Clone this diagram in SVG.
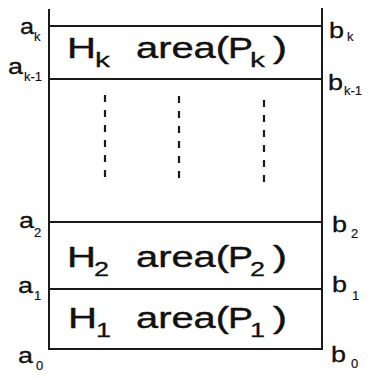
<svg xmlns="http://www.w3.org/2000/svg" width="369" height="378" viewBox="0 0 369 378">
<style>
.ln{stroke:#1a1a1a;stroke-width:2;fill:none}
.dl{stroke:#1a1a1a;stroke-width:2.2;stroke-dasharray:7 8;fill:none}
.big{font-family:"Liberation Sans",Arial,sans-serif;font-size:30px;fill:#111;stroke:#111;stroke-width:0.4}
.bs{font-family:"Liberation Sans",Arial,sans-serif;font-size:21px;fill:#111;stroke:#111;stroke-width:0.3}
.lb{font-family:"Liberation Sans",Arial,sans-serif;font-size:22px;fill:#111;stroke:#111;stroke-width:0.3}
.ls{font-family:"Liberation Sans",Arial,sans-serif;font-size:13px;fill:#111;stroke:#111;stroke-width:0.2}
</style>
<rect width="369" height="378" fill="#fff"/>
<g id="connectors">
<line class="ln" x1="49" y1="9" x2="49" y2="350"/>
<line class="ln" x1="322" y1="8" x2="322" y2="350"/>
<line class="ln" x1="49" y1="26" x2="322" y2="26"/>
<line class="ln" x1="49" y1="79" x2="322" y2="79"/>
<line class="ln" x1="49" y1="222" x2="322" y2="222"/>
<line class="ln" x1="49" y1="289" x2="322" y2="289"/>
<line class="ln" x1="48" y1="349" x2="323" y2="349"/>
<line class="dl" x1="105" y1="95" x2="105" y2="183"/>
<line class="dl" x1="179" y1="96" x2="179" y2="185"/>
<line class="dl" x1="264" y1="100" x2="264" y2="188"/>
</g>
<g id="row-k">
<text class="big" x="67" y="58" textLength="29" lengthAdjust="spacingAndGlyphs">H</text>
<text class="bs" x="95" y="67" textLength="15" lengthAdjust="spacingAndGlyphs">k</text>
<text class="big" x="136" y="58" textLength="93" lengthAdjust="spacingAndGlyphs">area(</text>
<text class="big" x="228" y="58" textLength="25" lengthAdjust="spacingAndGlyphs">P</text>
<text class="bs" x="250" y="67" textLength="15" lengthAdjust="spacingAndGlyphs">k</text>
<text class="big" x="273" y="58" textLength="14" lengthAdjust="spacingAndGlyphs">)</text>
</g>
<g id="row-2">
<text class="big" x="67" y="267" textLength="29" lengthAdjust="spacingAndGlyphs">H</text>
<text class="bs" x="94" y="276" textLength="15" lengthAdjust="spacingAndGlyphs">2</text>
<text class="big" x="136" y="267" textLength="93" lengthAdjust="spacingAndGlyphs">area(</text>
<text class="big" x="228" y="267" textLength="25" lengthAdjust="spacingAndGlyphs">P</text>
<text class="bs" x="250" y="276" textLength="15" lengthAdjust="spacingAndGlyphs">2</text>
<text class="big" x="273" y="267" textLength="14" lengthAdjust="spacingAndGlyphs">)</text>
</g>
<g id="row-1">
<text class="big" x="68" y="328" textLength="29" lengthAdjust="spacingAndGlyphs">H</text>
<text class="bs" x="96" y="337" textLength="15" lengthAdjust="spacingAndGlyphs">1</text>
<text class="big" x="136" y="328" textLength="93" lengthAdjust="spacingAndGlyphs">area(</text>
<text class="big" x="228" y="328" textLength="25" lengthAdjust="spacingAndGlyphs">P</text>
<text class="bs" x="250" y="337" textLength="15" lengthAdjust="spacingAndGlyphs">1</text>
<text class="big" x="273" y="328" textLength="14" lengthAdjust="spacingAndGlyphs">)</text>
</g>
<g id="labels-a">
<text class="lb" x="20" y="34" textLength="14" lengthAdjust="spacingAndGlyphs">a</text><text class="ls" x="34" y="41">k</text>
<text class="lb" x="8" y="74" textLength="15" lengthAdjust="spacingAndGlyphs">a</text><text class="ls" x="24" y="81">k-1</text>
<text class="lb" x="19" y="228" textLength="15" lengthAdjust="spacingAndGlyphs">a</text><text class="ls" x="34" y="237">2</text>
<text class="lb" x="18" y="293" textLength="15" lengthAdjust="spacingAndGlyphs">a</text><text class="ls" x="34" y="300">1</text>
<text class="lb" x="18" y="363" textLength="15" lengthAdjust="spacingAndGlyphs">a</text><text class="ls" x="36" y="370">0</text>
</g>
<g id="labels-b">
<text class="lb" x="329" y="38" textLength="15" lengthAdjust="spacingAndGlyphs">b</text><text class="ls" x="347" y="41">k</text>
<text class="lb" x="328" y="90" textLength="15" lengthAdjust="spacingAndGlyphs">b</text><text class="ls" x="344" y="95">k-1</text>
<text class="lb" x="332" y="232" textLength="15" lengthAdjust="spacingAndGlyphs">b</text><text class="ls" x="351" y="238">2</text>
<text class="lb" x="332" y="292" textLength="15" lengthAdjust="spacingAndGlyphs">b</text><text class="ls" x="352" y="300">1</text>
<text class="lb" x="331" y="362" textLength="15" lengthAdjust="spacingAndGlyphs">b</text><text class="ls" x="351" y="368">0</text>
</g>
</svg>
